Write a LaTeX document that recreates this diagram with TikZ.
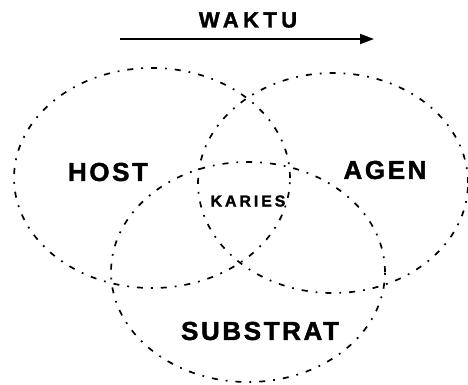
\documentclass[tikz,border=0pt]{standalone}
\usepackage{fontspec}
\setsansfont{Liberation Sans}
\usepackage{tikz}
\usetikzlibrary{arrows.meta}
\usetikzlibrary{positioning}

\tikzset{
    ring/.style={line width=1.7pt, dash pattern=on 6pt off 8pt on 1.8pt off 8pt},
    label/.style={font=\sffamily\bfseries\fontsize{26}{26}\selectfont\addfontfeatures{LetterSpace=10, FakeBold=1.6}},
}

\begin{document}
\begin{tikzpicture}[x=1pt, y=-1pt]
            \useasboundingbox (0,0) rectangle (468,384);

            % Host, agen, substrat
            \foreach \cx/\cy/\rx/\ry in {152/178/138/110, 333/183/135/110, 248/272/137/110} {
                \draw[ring] (\cx,\cy) ellipse [x radius=\rx pt, y radius=\ry pt];
            }

            % Waktu
            \coordinate (tstart) at (120,39);
            \coordinate (tend) at (374,39);
            \draw[line width=2pt, -{Triangle[length=14pt, width=10pt]}] (tstart) -- (tend);
            \node[font=\sffamily\bfseries\fontsize{22}{22}\selectfont\addfontfeatures{LetterSpace=20, FakeBold=1.6}] (waktu) at (248,20) {WAKTU};

            % Labels
            \node[label] (host) at (108,172) {HOST};
            \node[label] (agen) at (385,170) {AGEN};
            \node[label] (substrat) at (260,331) {SUBSTRAT};
            \node[font=\sffamily\bfseries\fontsize{16}{16}\selectfont\addfontfeatures{LetterSpace=18, FakeBold=1.6}] (karies) at (248,201) {KARIES};

\end{tikzpicture}
\end{document}
